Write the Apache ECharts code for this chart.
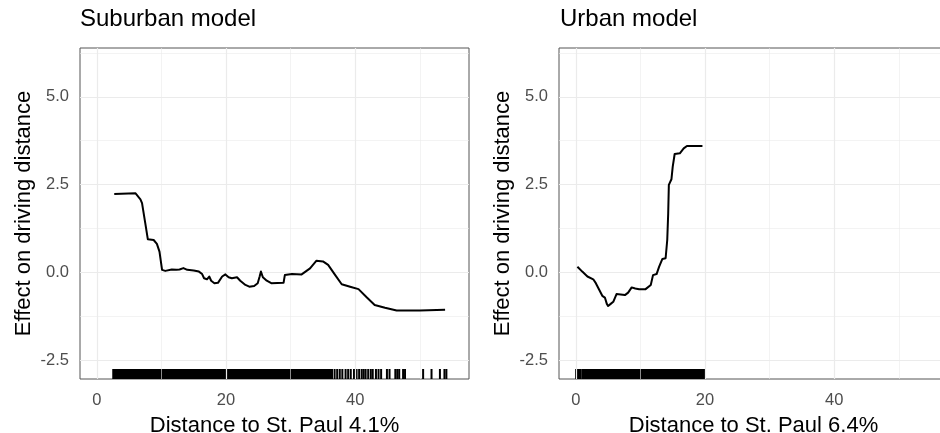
<!DOCTYPE html>
<html>
<head>
<meta charset="utf-8">
<script src="https://cdn.jsdelivr.net/npm/echarts@6/dist/echarts.min.js"></script>
<style>
html,body{margin:0;padding:0;background:#fff;}
#chart{width:940px;height:433px;}
</style>
</head>
<body>
<div id="chart"></div>
<script>
// ---- data ----
const panelTitles = ['Suburban model', 'Urban model'];
const xTitles = ['Distance to St. Paul 4.1%', 'Distance to St. Paul 6.4%'];
const yTitle = 'Effect on driving distance';
const xTickValues = [0, 20, 40];
const xMinorGrid = [10, 30, 50];
const yTickValues = [-2.5, 0, 2.5, 5.0];
const yMinorGrid = [-1.25, 1.25, 3.75, 6.25];

const suburbanX = [2.7, 6.0, 6.3, 6.75, 7.0, 7.5, 7.9, 8.8, 9.3, 9.7, 10.1, 10.6, 11.6, 12.3, 12.8, 13.4, 14.0, 15.0, 15.8, 16.3, 16.6, 17.05, 17.4, 17.7, 18.2, 18.75, 19.4, 19.9, 20.4, 20.9, 21.7, 22.2, 23.0, 23.6, 24.35, 24.9, 25.2, 25.4, 25.7, 26.3, 27.0, 28.9, 29.1, 30.2, 31.7, 33.0, 34.0, 35.0, 35.8, 36.9, 37.9, 39.2, 40.5, 41.8, 43.0, 44.6, 46.4, 50.0, 53.9];
const suburbanY = [2.23, 2.25, 2.23, 2.08, 1.97, 1.40, 0.94, 0.92, 0.81, 0.59, 0.07, 0.04, 0.08, 0.07, 0.08, 0.12, 0.07, 0.05, 0.02, -0.05, -0.17, -0.20, -0.12, -0.24, -0.31, -0.30, -0.12, -0.06, -0.14, -0.17, -0.14, -0.24, -0.36, -0.41, -0.39, -0.31, -0.12, 0.02, -0.14, -0.24, -0.31, -0.30, -0.08, -0.05, -0.06, 0.11, 0.33, 0.31, 0.21, -0.08, -0.34, -0.41, -0.48, -0.72, -0.93, -1.01, -1.09, -1.09, -1.07];

const urbanX = [0.25, 1.0, 1.8, 2.7, 3.1, 3.6, 4.1, 4.5, 4.8, 5.0, 5.4, 5.8, 6.3, 6.95, 7.6, 8.1, 8.65, 9.2, 9.8, 10.8, 11.6, 11.95, 12.5, 12.9, 13.4, 13.9, 14.15, 14.3, 14.4, 14.8, 15.0, 15.3, 16.1, 16.7, 17.2, 19.6];
const urbanY = [0.16, 0.02, -0.12, -0.20, -0.31, -0.49, -0.67, -0.72, -0.90, -0.96, -0.90, -0.84, -0.62, -0.63, -0.65, -0.58, -0.43, -0.46, -0.48, -0.48, -0.36, -0.08, -0.05, 0.16, 0.38, 0.40, 0.92, 1.68, 2.49, 2.65, 3.01, 3.37, 3.39, 3.53, 3.60, 3.60];

const suburbanRugDense = [2.7, 3.0, 3.4, 3.7, 4.0, 4.2, 4.6, 5.0, 5.4, 5.8, 6.2, 6.6, 7.0, 7.4, 7.8, 8.2, 8.6, 9.0, 9.4, 9.8, 10.2, 10.6, 11.0, 11.4, 11.8, 12.2, 12.6, 13.0, 13.4, 13.8, 14.2, 14.6, 15.0, 15.4, 15.8, 16.2, 16.6, 17.0, 17.4, 17.8, 18.2, 18.6, 19.0, 19.4, 19.8, 20.2, 20.6, 21.0, 21.4, 21.8, 22.2, 22.6, 23.0, 23.4, 23.8, 24.2, 24.6, 25.0, 25.4, 25.8, 26.2, 26.6, 27.0, 27.4, 27.8, 28.2, 28.6, 29.0, 29.4, 29.8, 30.2, 30.6, 31.0, 31.4, 31.8, 32.2, 32.6, 33.0, 33.4, 33.8, 34.2, 34.6, 35.0, 35.4, 35.8, 36.1];
const suburbanRugSparse = [36.4, 36.8, 37.2, 37.6, 38.0, 38.5, 38.9, 39.3, 39.8, 40.2, 40.6, 41.0, 41.3, 41.6, 42.0, 42.4, 42.7, 43.2, 43.6, 44.0, 44.9, 45.3, 46.2, 46.5, 46.8, 47.4, 47.7, 50.5, 51.8, 53.1, 53.8, 54.1];
const urbanRugDense = [0.2, 0.6, 1.2, 1.5, 1.9, 2.3, 2.7, 3.1, 3.5, 3.9, 4.3, 4.7, 5.1, 5.5, 5.9, 6.3, 6.7, 7.1, 7.5, 7.9, 8.3, 8.7, 9.1, 9.5, 9.9, 10.3, 10.7, 11.1, 11.5, 11.9, 12.3, 12.7, 13.1, 13.5, 13.9, 14.3, 14.7, 15.1, 15.5, 15.9, 16.3, 16.7, 17.1, 17.5, 17.9, 18.3, 18.7, 19.2, 19.5, 19.8];

// ---- chart ----
const X_MIN = -2.6, X_MAX = 57.6, Y_MIN = -3.04, Y_MAX = 6.39;
const FONT = '"Liberation Sans", Arial, sans-serif';
const GRID_COLOR = '#EBEBEB';
const RUG_H = 10;

const grids = [
  {left: 80, top: 48, width: 389, height: 331},
  {left: 559, top: 48, width: 389, height: 331}
];

function makeX(i) {
  return {
    type: 'value', gridIndex: i, min: X_MIN, max: X_MAX,
    name: xTitles[i], nameLocation: 'middle', nameGap: 36,
    nameTextStyle: {fontSize: 22, color: '#000', fontFamily: FONT},
    axisLine: {show: false},
    axisTick: {show: true, length: 5, lineStyle: {color: '#333', width: 1}, customValues: xTickValues},
    axisLabel: {show: true, fontSize: 16.5, color: '#4D4D4D', fontFamily: FONT, margin: 13, customValues: xTickValues,
      formatter: v => String(v)},
    splitLine: {show: false}
  };
}
function makeY(i) {
  return {
    type: 'value', gridIndex: i, min: Y_MIN, max: Y_MAX,
    name: yTitle, nameLocation: 'middle', nameGap: 45,
    nameTextStyle: {fontSize: 22, color: '#000', fontFamily: FONT},
    axisLine: {show: false},
    axisTick: {show: true, length: 5, lineStyle: {color: '#333', width: 1}, customValues: yTickValues},
    axisLabel: {show: true, fontSize: 16.5, color: '#4D4D4D', fontFamily: FONT, margin: 11, customValues: yTickValues,
      formatter: v => Number(v).toFixed(1)},
    splitLine: {show: false}
  };
}

function gridLineSeries(i) {
  const data = [];
  xMinorGrid.forEach(v => data.push({xAxis: v, lineStyle: {width: 0.6, color: GRID_COLOR}}));
  yMinorGrid.forEach(v => data.push({yAxis: v, lineStyle: {width: 0.6, color: GRID_COLOR}}));
  xTickValues.forEach(v => data.push({xAxis: v, lineStyle: {width: 1.2, color: GRID_COLOR}}));
  yTickValues.forEach(v => data.push({yAxis: v, lineStyle: {width: 1.2, color: GRID_COLOR}}));
  return {
    type: 'line', xAxisIndex: i, yAxisIndex: i, data: [], z: 1, silent: true,
    markLine: {silent: true, symbol: ['none', 'none'], label: {show: false}, animation: false,
      lineStyle: {type: 'solid'}, data: data}
  };
}

function curveSeries(i, xs, ys) {
  return {
    type: 'line', xAxisIndex: i, yAxisIndex: i, z: 5,
    data: xs.map((x, k) => [x, ys[k]]),
    showSymbol: false, symbol: 'none', smooth: false,
    lineStyle: {color: '#000', width: 2, join: 'round'},
    animation: false
  };
}

function rugSeries(i, xs, w) {
  return {
    type: 'scatter', xAxisIndex: i, yAxisIndex: i, z: 4, silent: true, large: false,
    data: xs.map(x => [x, Y_MIN]),
    symbol: 'rect', symbolSize: [w, RUG_H], symbolOffset: [0, -RUG_H / 2],
    itemStyle: {color: '#000', opacity: 1, borderWidth: 0},
    emphasis: {disabled: true},
    clip: false,
    animation: false
  };
}

const titleStyle = {fontSize: 24, fontWeight: 'normal', color: '#000', fontFamily: FONT};
const option = {
  backgroundColor: '#fff',
  animation: false,
  textStyle: {fontFamily: FONT},
  title: [
    {text: panelTitles[0], left: 80, top: 7, padding: 0, textStyle: titleStyle},
    {text: panelTitles[1], left: 560, top: 7, padding: 0, textStyle: titleStyle}
  ],
  grid: grids.map(g => Object.assign({show: true, borderColor: '#555', borderWidth: 1, backgroundColor: '#fff',
    containLabel: false, outerBoundsMode: 'none'}, g)),
  xAxis: [makeX(0), makeX(1)],
  yAxis: [makeY(0), makeY(1)],
  series: [
    gridLineSeries(0), gridLineSeries(1),
    rugSeries(0, suburbanRugDense, 4), rugSeries(0, suburbanRugSparse, 2),
    rugSeries(1, urbanRugDense, 4),
    curveSeries(0, suburbanX, suburbanY),
    curveSeries(1, urbanX, urbanY)
  ]
};

const chart = echarts.init(document.getElementById('chart'), null, {renderer: 'canvas'});
chart.setOption(option);
</script>
</body>
</html>
